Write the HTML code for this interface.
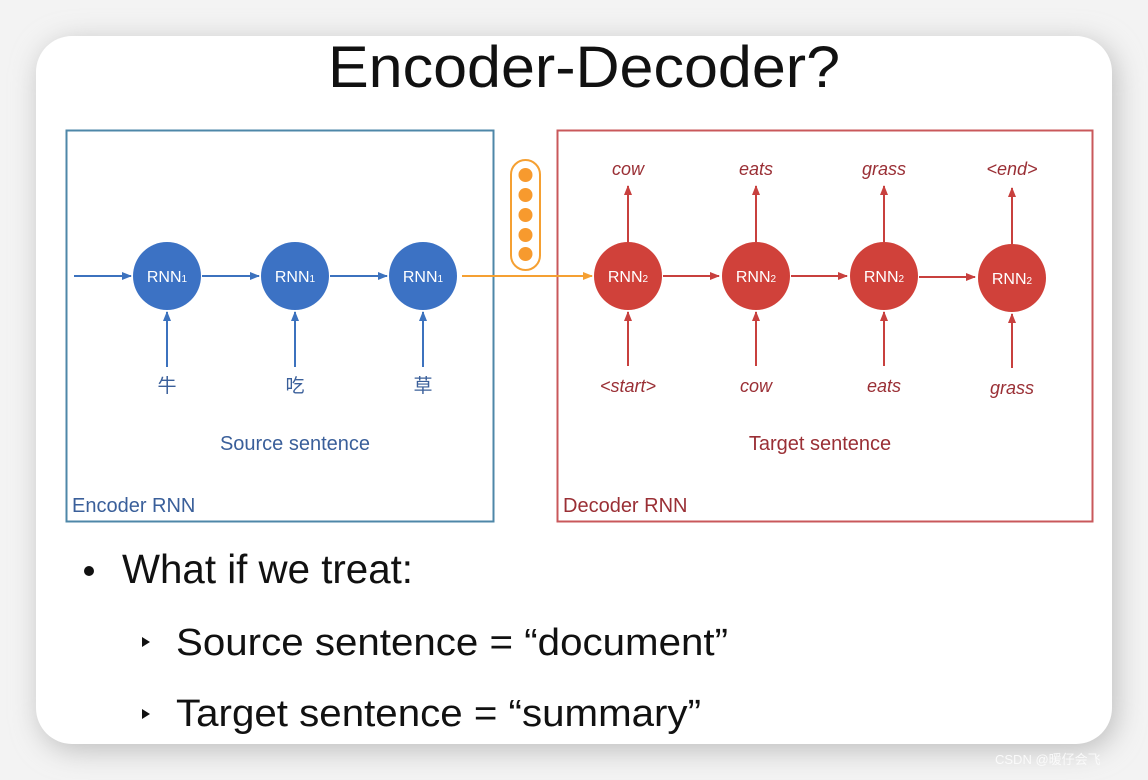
<!DOCTYPE html>
<html><head><meta charset="utf-8"><style>
html,body{margin:0;padding:0;width:1148px;height:780px;overflow:hidden;background:#e9e9e9}
</style></head><body>
<svg width="1148" height="780" xmlns="http://www.w3.org/2000/svg" font-family="Liberation Sans, Arial, sans-serif">
<defs>
<filter id="sh" x="-10%" y="-10%" width="120%" height="120%"><feGaussianBlur stdDeviation="14"/></filter>
<marker id="ab" markerWidth="10" markerHeight="10" refX="9" refY="5" orient="auto" markerUnits="userSpaceOnUse"><path d="M0,1 L10,5 L0,9 Z" fill="#3c72be"/></marker>
<marker id="ar" markerWidth="10" markerHeight="10" refX="9" refY="5" orient="auto" markerUnits="userSpaceOnUse"><path d="M0,1 L10,5 L0,9 Z" fill="#c8403e"/></marker>
<marker id="ao" markerWidth="10" markerHeight="10" refX="9" refY="5" orient="auto" markerUnits="userSpaceOnUse"><path d="M0,1 L10,5 L0,9 Z" fill="#f5a032"/></marker>
</defs>
<rect x="0" y="0" width="1148" height="780" fill="#f3f3f3"/>
<rect x="40" y="42" width="1076" height="708" rx="36" fill="#bdbdbd" filter="url(#sh)"/>
<rect x="36" y="36" width="1076" height="708" rx="36" fill="#ffffff"/>
<text x="328" y="87" font-size="58" fill="#111" textLength="512" lengthAdjust="spacingAndGlyphs">Encoder-Decoder?</text>

<rect x="66.5" y="130.5" width="427" height="391" fill="none" stroke="#4e87a8" stroke-width="2"/>
<rect x="557.5" y="130.5" width="535" height="391" fill="none" stroke="#c9585b" stroke-width="2"/>

<g stroke="#3c72be" stroke-width="2" marker-end="url(#ab)">
<line x1="74" y1="276" x2="131" y2="276"/>
<line x1="202" y1="276" x2="259" y2="276"/>
<line x1="330" y1="276" x2="387" y2="276"/>
<line x1="167" y1="367" x2="167" y2="312"/>
<line x1="295" y1="367" x2="295" y2="312"/>
<line x1="423" y1="367" x2="423" y2="312"/>
</g>
<g fill="#3c72c4">
<circle cx="167" cy="276" r="34"/><circle cx="295" cy="276" r="34"/><circle cx="423" cy="276" r="34"/>
</g>
<g fill="#fff" font-size="16" text-anchor="middle">
<text x="167" y="282">RNN<tspan font-size="10">1</tspan></text>
<text x="295" y="282">RNN<tspan font-size="10">1</tspan></text>
<text x="423" y="282">RNN<tspan font-size="10">1</tspan></text>
</g>
<g fill="#3a5f9a" font-size="19" text-anchor="middle" font-family="Liberation Sans, Noto Sans CJK SC, sans-serif">
<text x="167" y="392">牛</text><text x="295" y="392">吃</text><text x="423" y="392">草</text>
</g>
<text x="295" y="450" font-size="20" fill="#3a5f9a" text-anchor="middle">Source sentence</text>
<text x="72" y="512" font-size="20" fill="#3a5f9a">Encoder RNN</text>

<rect x="511" y="160" width="29" height="110" rx="14.5" fill="#fff" stroke="#f5a032" stroke-width="2"/>
<g fill="#f79a2e"><circle cx="525.5" cy="175" r="7"/><circle cx="525.5" cy="195" r="7"/><circle cx="525.5" cy="215" r="7"/><circle cx="525.5" cy="235" r="7"/><circle cx="525.5" cy="254" r="7"/></g>
<line x1="462" y1="276" x2="592" y2="276" stroke="#f5a032" stroke-width="2" marker-end="url(#ao)"/>

<g stroke="#c8403e" stroke-width="2" marker-end="url(#ar)">
<line x1="663" y1="276" x2="719" y2="276"/>
<line x1="791" y1="276" x2="847" y2="276"/>
<line x1="919" y1="277" x2="975" y2="277"/>
<line x1="628" y1="366" x2="628" y2="312"/>
<line x1="756" y1="366" x2="756" y2="312"/>
<line x1="884" y1="366" x2="884" y2="312"/>
<line x1="1012" y1="368" x2="1012" y2="314"/>
<line x1="628" y1="242" x2="628" y2="186"/>
<line x1="756" y1="242" x2="756" y2="186"/>
<line x1="884" y1="242" x2="884" y2="186"/>
<line x1="1012" y1="244" x2="1012" y2="188"/>
</g>
<g fill="#d0413a">
<circle cx="628" cy="276" r="34"/><circle cx="756" cy="276" r="34"/><circle cx="884" cy="276" r="34"/><circle cx="1012" cy="278" r="34"/>
</g>
<g fill="#fff" font-size="16" text-anchor="middle">
<text x="628" y="282">RNN<tspan font-size="10">2</tspan></text>
<text x="756" y="282">RNN<tspan font-size="10">2</tspan></text>
<text x="884" y="282">RNN<tspan font-size="10">2</tspan></text>
<text x="1012" y="284">RNN<tspan font-size="10">2</tspan></text>
</g>
<g fill="#9a2f35" font-size="18" font-style="italic" text-anchor="middle">
<text x="628" y="175">cow</text><text x="756" y="175">eats</text><text x="884" y="175">grass</text><text x="1012" y="175">&lt;end&gt;</text>
<text x="628" y="392">&lt;start&gt;</text><text x="756" y="392">cow</text><text x="884" y="392">eats</text><text x="1012" y="394">grass</text>
</g>
<text x="820" y="450" font-size="20" fill="#9a2f35" text-anchor="middle">Target sentence</text>
<text x="563" y="512" font-size="20" fill="#9a2f35">Decoder RNN</text>

<circle cx="89" cy="571" r="5" fill="#111"/>
<text x="122" y="583" font-size="41" fill="#111" textLength="291" lengthAdjust="spacingAndGlyphs">What if we treat:</text>
<path d="M142,637 L150,642 L142,647 Z" fill="#111"/>
<text x="176" y="655" font-size="38" fill="#111" textLength="552" lengthAdjust="spacingAndGlyphs">Source sentence = “document”</text>
<path d="M142,709 L150,714 L142,719 Z" fill="#111"/>
<text x="176" y="726" font-size="38" fill="#111" textLength="525" lengthAdjust="spacingAndGlyphs">Target sentence = “summary”</text>
<text x="995" y="764" font-size="13" fill="#fafafa" font-family="Liberation Sans, Noto Sans CJK SC, sans-serif">CSDN @暖仔会飞</text>
</svg>
</body></html>
